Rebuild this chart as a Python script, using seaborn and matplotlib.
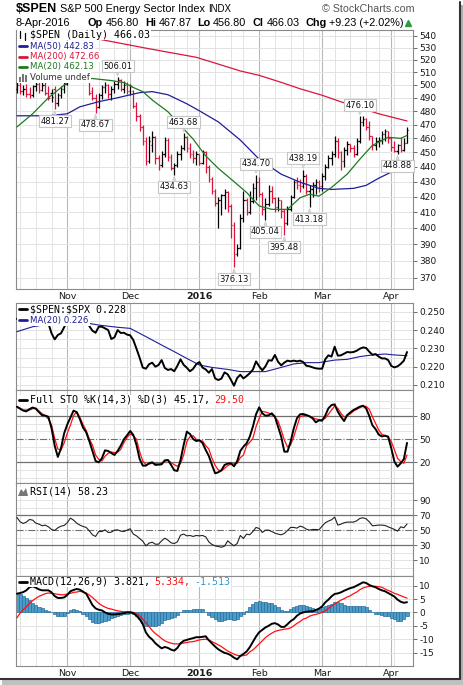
import matplotlib

matplotlib.use("Agg")
import matplotlib.pyplot as plt
import numpy as np
import pandas as pd
import seaborn as sns
from matplotlib.lines import Line2D
from matplotlib.patches import Polygon, Rectangle
from matplotlib.ticker import NullLocator

sns.set_style("white")
plt.rcParams["font.family"] = ["DejaVu Sans"]

W, H = 464, 685

# trading days on the chart (NYSE holidays removed)
holidays = ["2015-11-26", "2015-12-25", "2016-01-01", "2016-01-18", "2016-02-15", "2016-03-25"]
dates = pd.bdate_range("2015-10-09", "2016-04-08")
dates = dates[~dates.isin(pd.to_datetime(holidays))]

opens = [497, 500, 495, 497, 493, 492, 499, 501, 496, 500,
         494, 494, 497, 486, 492, 497, 501, 508, 514, 519,
         515, 511, 516, 502, 495, 490, 483, 492, 498, 500,
         493, 497, 501, 504, 497, 500, 495, 495, 484, 476,
         468, 458, 444, 455, 461, 446, 441, 449, 459, 447,
         439, 441, 449, 453, 461, 453, 449, 446, 449, 443,
         450, 440, 432, 424, 416, 418, 421, 423, 414, 402,
         384, 388, 406, 418, 410, 417, 426, 430, 422, 412,
         415, 424, 419, 413, 418, 411, 403, 412, 420, 430,
         428, 427, 434, 424, 425, 428, 430, 427, 434, 440,
         446, 449, 458, 450, 444, 452, 456, 453, 449, 458,
         472, 474, 468, 462, 455, 458, 459, 463, 465, 460,
         454, 451, 455, 452, 456.80]
highs = [502, 502, 500, 501, 498, 500, 503, 502, 502, 502,
         499, 497, 499, 494, 499, 502, 510, 516, 521, 522,
         519, 518, 519, 503, 498, 493, 494, 500, 502, 501,
         499, 503, 506.01, 505, 503, 502, 501, 496, 487, 478,
         470, 461, 462, 465, 462, 448, 451, 461, 460, 449,
         443, 451, 455, 463.68, 462, 457, 452, 451, 449, 452,
         451, 441, 433, 425, 420, 422, 425, 424, 415, 404,
         390, 409, 424, 419, 424, 429, 434.70, 433, 423, 419,
         428, 427, 420, 420, 418, 412, 414, 421, 431, 433,
         432, 438.19, 435, 428, 430, 432, 431, 436, 442, 448,
         451, 462, 460, 451, 454, 458, 456, 455, 460, 476.10,
         476, 475, 473, 462, 461, 461, 465, 467, 465, 461,
         458, 456, 461, 460, 467.87]
lows = [494, 493, 492, 491, 490, 491, 495, 494, 495, 492,
        488, 487, 481.27, 484, 490, 494, 500, 505, 512, 513,
        509, 508, 506, 492, 488, 478.67, 482, 489, 494, 490,
        488, 494, 497, 495, 494, 493, 492, 482, 473, 465,
        455, 441, 443, 450, 442, 438, 440, 447, 444, 438,
        434.63, 440, 445, 452, 450, 446, 443, 441, 441, 442,
        436, 430, 422, 414, 400, 408, 412, 410, 394, 376.13,
        383, 387, 404, 408, 409, 416, 418, 420, 408, 405.04,
        414, 416, 410, 411, 406, 395.48, 402, 411, 419, 425,
        423, 426, 422, 413.18, 420, 422, 423, 424, 431, 439,
        441, 447, 446, 438, 440, 448, 450, 447, 448, 457,
        469, 466, 459, 452, 452, 454, 456, 458, 457, 451,
        450, 448.88, 450, 451, 456.80]
closes = [500, 495, 497, 493, 492, 499, 501, 496, 500, 494,
          490, 491, 486, 492, 497, 501, 508, 514, 519, 515,
          511, 516, 508, 494, 490, 483, 492, 498, 500, 493,
          497, 501, 504, 497, 500, 495, 499, 484, 476, 468,
          458, 444, 458, 461, 446, 441, 449, 459, 447, 439,
          441, 449, 453, 461, 453, 449, 446, 449, 443, 450,
          440, 432, 424, 416, 418, 421, 423, 414, 402, 384,
          388, 406, 418, 410, 417, 426, 430, 422, 412, 415,
          424, 419, 413, 418, 411, 403, 412, 420, 430, 428,
          427, 434, 424, 425, 428, 430, 427, 434, 440, 446,
          449, 458, 450, 444, 452, 456, 453, 449, 458, 472,
          474, 468, 462, 455, 458, 459, 463, 465, 460, 454,
          451, 455, 452, 456.80, 466.03]

ma20_idx = [0, 5, 10, 16, 20, 24, 30, 34, 37, 40, 43, 48, 52, 56, 60, 64, 69, 73,
            77, 81, 86, 90, 93, 96, 100, 105, 109, 113, 118, 122, 124]
ma20_val = [468.3, 478, 490.1, 501.8, 504.5, 505, 503.4, 501.8, 498, 494.8, 488.4,
            479.5, 469.3, 459.5, 447.6, 439, 430, 422.8, 414, 411.8, 411.8, 419.3,
            421.6, 420.4, 426.1, 435.1, 445.3, 455, 460.8, 460, 462.13]
ma50_idx = [0, 10, 16, 20, 26, 32, 39, 43, 48, 54, 58, 64, 71, 77, 84, 90, 96, 100,
            107, 111, 115, 120, 124]
ma50_val = [476.5, 476.5, 478, 483.2, 487.1, 490.1, 494, 494.8, 492.4, 485.5, 480.2,
            472, 458.8, 445.3, 435, 429.6, 425.5, 424.8, 425.5, 427.5, 432.3, 437.5, 442.83]
ma200_idx = [0, 14, 28, 42, 57, 64, 71, 77, 84, 90, 97, 103, 109, 115, 120, 124]
ma200_val = [551, 543, 536, 529, 522, 516.5, 511, 507.5, 502, 497, 492, 487, 482.5,
             478, 475, 472.66]

peak_idx = [12, 25, 32, 50, 53, 69, 76, 79, 85, 91, 93, 109, 121]
peak_val = [481.27, 478.67, 506.01, 434.63, 463.68, 376.13, 434.70, 405.04, 395.48,
            438.19, 413.18, 476.10, 448.88]
peak_kind = ["low", "low", "high", "low", "high", "low", "high", "low", "low",
             "high", "low", "high", "low"]

ratio = [0.246, 0.247, 0.246, 0.245, 0.246, 0.247, 0.246, 0.247, 0.246, 0.245,
         0.2436, 0.2382, 0.2349, 0.2373, 0.2382, 0.2415, 0.2451, 0.2465, 0.2472, 0.2466,
         0.2458, 0.2462, 0.2445, 0.2422, 0.2396, 0.2385, 0.2418, 0.2418, 0.2409, 0.2400,
         0.2351, 0.2360, 0.2400, 0.2384, 0.2385, 0.2375, 0.2371, 0.2345, 0.2298, 0.2249,
         0.2195, 0.2189, 0.2213, 0.2222, 0.2200, 0.2209, 0.2236, 0.2193, 0.2182, 0.2187,
         0.2175, 0.2205, 0.2240, 0.2210, 0.2194, 0.2175, 0.2188, 0.2214, 0.2225, 0.2195,
         0.2185, 0.2167, 0.2187, 0.2136, 0.2127, 0.2135, 0.2169, 0.2158, 0.2129, 0.2096,
         0.2138, 0.2156, 0.2136, 0.2149, 0.2164, 0.2184, 0.2229, 0.2202, 0.2180, 0.2202,
         0.2235, 0.2233, 0.2264, 0.2227, 0.2207, 0.2222, 0.2233, 0.2229, 0.2233, 0.2229,
         0.2233, 0.2225, 0.2205, 0.2202, 0.2196, 0.2191, 0.2189, 0.2189, 0.2240, 0.2262,
         0.2255, 0.2309, 0.2260, 0.2262, 0.2271, 0.2280, 0.2278, 0.2280, 0.2287, 0.2298,
         0.2305, 0.2302, 0.2282, 0.2265, 0.2269, 0.2255, 0.2245, 0.2245, 0.2236, 0.2204,
         0.2196, 0.2202, 0.2215, 0.2233, 0.2280]
ratio_ma_idx = [0, 5, 10, 16, 23, 26, 32, 36, 38, 41, 46, 50, 54, 58, 62, 67, 71, 75,
                79, 84, 88, 92, 96, 101, 105, 109, 113, 117, 120, 124]
ratio_ma_val = [0.2391, 0.2418, 0.2432, 0.2440, 0.2436, 0.2427, 0.2415, 0.2409, 0.2391,
                0.2364, 0.2318, 0.2282, 0.2245, 0.2209, 0.2196, 0.2185, 0.2173, 0.2173,
                0.2173, 0.2196, 0.2215, 0.2222, 0.2222, 0.2236, 0.2240, 0.2255, 0.2264,
                0.2269, 0.2264, 0.2260]

sto_k = [92, 89.5, 87, 86, 89, 91, 89.5, 85, 81, 80.5,
         79, 64, 41.6, 27, 38, 57.5, 69, 78, 87, 85,
         76, 65, 59, 47.6, 34.7, 21.7, 20, 25.2, 35.5, 34.7,
         32, 29.5, 34.7, 41.6, 49.8, 55, 60.6, 55.4, 42.5, 24.3,
         15.7, 15.7, 18.7, 20, 16.6, 17, 17.4, 22.6, 23, 16.6,
         9.7, 8.8, 23, 42.5, 59.7, 56.7, 50.2, 47.6, 48.5, 45,
         36, 28.2, 16.6, 5.8, 7.1, 9.7, 16.6, 18.3, 18.7, 14.8,
         21.3, 34.7, 40.3, 44.6, 53.2, 66.2, 82.2, 91.2, 83.5, 80.4,
         80.9, 83.5, 79.1, 66.2, 53.2, 33.8, 33.8, 46.8, 64, 77,
         82.2, 82.6, 81.3, 79.6, 77, 71.8, 74.4, 74, 80.4, 89.9,
         94.2, 95.1, 85.6, 79, 73.5, 81.3, 84.7, 87.8, 89.9, 92.1,
         93.4, 90, 80, 68, 63, 56, 53.5, 54.5, 53.2, 38.1,
         20.9, 14.4, 18.7, 24.3, 45.17]
sto_d = [92, 90, 87.8, 87.8, 87.8, 89.5, 90, 86.5, 83, 80.4,
         76, 68.3, 51, 37.3, 36, 45, 57.6, 68.3, 80.4, 85.6,
         78.3, 69.2, 61.4, 50.2, 42.5, 29.5, 23.9, 21.7, 27.8, 31.7,
         33.4, 32.5, 33, 36.8, 45.5, 52, 56.7, 54.5, 49.8, 33.8,
         21.7, 17, 17.8, 18.7, 18.3, 17.8, 18.7, 21.3, 22.6, 19.6,
         17, 14.8, 18.3, 29.5, 46.8, 53.2, 54.5, 49.8, 48.1, 47.6,
         41.6, 37.3, 25.2, 16.1, 10.1, 8.8, 12.2, 15.7, 17.4, 18.3,
         18.7, 26, 29.5, 41.6, 45.9, 51.1, 66.2, 77, 86, 85.2,
         83.9, 81.3, 78.7, 73.5, 61.9, 48.9, 39.9, 42.5, 53.2, 66.2,
         79.1, 80.4, 80.9, 79.6, 77.8, 76.1, 75.3, 75.3, 77, 82.2,
         87.8, 93, 89.9, 83.5, 78.7, 80.4, 83, 86.5, 88.6, 90.8,
         92.5, 92.5, 88.6, 79.1, 70.5, 61.9, 56.3, 54.5, 52.8, 46.8,
         36, 25.2, 20.9, 18.7, 29.5]

rsi = [66.9, 61.1, 58.9, 60.7, 64.2, 63.3, 59.3, 58, 55.8, 56.7,
       54.4, 50.9, 49.6, 53.1, 55.3, 56.2, 59.8, 66, 63.3, 59.3,
       56.7, 54.9, 53.6, 49.1, 43.8, 41.6, 48.2, 48.2, 50.4, 46.9,
       47.3, 50, 50.4, 48.7, 48.2, 50, 51.8, 44.7, 42.4, 38.9,
       35.3, 29.1, 32.7, 34, 31.3, 31.3, 35.8, 39.3, 36.7, 33.1,
       32.2, 34.4, 43.3, 44.7, 42.4, 42.9, 41.6, 42.9, 42.4, 42.9,
       41.1, 34.4, 30.9, 29.1, 28.2, 27.3, 28.7, 35.8, 32.2, 29.1,
       32.2, 42.9, 38.9, 44.7, 43.8, 48.2, 53.6, 52.2, 46.9, 50,
       50, 48.2, 46, 44.7, 43.8, 45.6, 49.6, 53.6, 53.6, 52.7,
       55.3, 54, 51.3, 50, 50.9, 50.9, 50.4, 55.3, 59.8, 62,
       63.8, 67.3, 56.7, 58, 59.8, 60.7, 60.7, 60.7, 62.4, 65.6,
       66.4, 65.1, 61.1, 55.8, 56.2, 56.7, 56.7, 56.2, 54.4, 52.7,
       50.9, 48.7, 54.4, 53.1, 58.23]

macd = [7, 7.25, 7.6, 8.25, 9.4, 9.75, 9.25, 8.6, 8.25, 8.25,
        8.25, 7.5, 6.1, 5.4, 5.4, 5.6, 6.5, 7.9, 8.4, 8.75,
        8.5, 7.75, 7, 4.9, 2.75, 1.5, 1, 0.75, 0, -0.5,
        -0.75, -0.75, -0.6, -0.5, -0.25, 0, 0, -0.25, -1.25, -2.5,
        -4.4, -7.5, -9.1, -10.1, -11.5, -12.5, -13.4, -12.9, -13.25, -13.9,
        -14.25, -13.25, -11.5, -10.6, -10.25, -9.9, -9.6, -9.25, -9.25, -9.1,
        -8.9, -10.4, -11.6, -12.75, -13.75, -14.5, -15.1, -15.4, -16, -16.9,
        -17.5, -16.25, -15.5, -14.6, -13, -11, -9, -7.4, -6.5, -5.6,
        -5, -4.25, -4, -4.5, -5.4, -5.4, -4.4, -3.25, -2.5, -1.25,
        -0.4, 0, 0.25, 0.4, 0.4, 0.9, 1.4, 2.25, 3.75, 4.75,
        6, 6.9, 7.1, 7.5, 8.1, 8.6, 9.1, 9.4, 10, 10.6,
        11.25, 11, 10.25, 9.75, 9.4, 8.75, 8.25, 7.9, 7.25, 6.6,
        5.9, 4.75, 4, 3.6, 3.821]
signal = [-2, -0.25, 1, 2.1, 3.4, 4.4, 5.25, 6, 6.5, 7,
          7.25, 7.1, 7, 6.75, 6.6, 6.6, 6.9, 7.1, 7.5, 7.6,
          7.9, 7.6, 7.25, 6.5, 5.6, 4.5, 3.4, 2.6, 2, 1.5,
          1.25, 0.9, 0.6, 0.4, 0.25, 0.25, 0.25, 0, -0.5, -1.25,
          -2.5, -3.9, -5.25, -6.75, -7.9, -8.75, -9.75, -10.6, -11.1, -11.5,
          -11.75, -11.75, -11.75, -11.4, -11.25, -11, -10.9, -10.6, -10.25, -10.1,
          -10, -10.25, -10.9, -11.5, -12.1, -12.75, -13.6, -14.4, -15, -15.6,
          -16, -16.25, -16.1, -15.9, -14.75, -14, -12.9, -11.75, -10.6, -9.4,
          -8.5, -7.75, -7.1, -6.75, -6.5, -6.25, -6.1, -5.75, -5, -4.1,
          -3.4, -2.5, -2.1, -1.4, -1, -0.75, -0.4, 0, 0.6, 1.5,
          2.4, 3.1, 3.9, 4.6, 5.1, 5.75, 6.25, 7, 7.6, 8.5,
          9.1, 9.5, 9.75, 9.75, 9.75, 9.6, 9.4, 8.75, 8.25, 7.75,
          7.1, 6.75, 6.25, 5.75, 5.334]
hist = [7, 6.8, 6, 5.4, 4.6, 3.6, 2.9, 2.1, 1.5, 0.9,
        0.5, 0, -0.7, -1.3, -1.5, -1.4, -0.2, 1, 1.25, 1,
        0.4, -0.4, -1.4, -2.6, -3.5, -4, -3.9, -3.5, -3.1, -2.7,
        -2, -1.7, -1.4, -1, -0.75, -0.5, -0.3, -0.75, -1.4, -2.4,
        -3.8, -5, -5.2, -5.25, -5.1, -4.6, -3.8, -2.9, -2.4, -2,
        -1.6, -1.1, 0, 0.8, 1, 1, 1.2, 1.25, 1.25, 1.1,
        0.3, -0.9, -1.8, -2.6, -3.2, -3.3, -3, -2.5, -2.5, -2.75,
        -2.5, -1.25, -0.5, 0.4, 2, 3.3, 4, 4.1, 3.9, 3.75,
        3.6, 3.4, 2.9, 2, 0.9, 0.4, 0.5, 1.2, 2.2, 2.5,
        2.75, 2.6, 2.3, 2, 1.7, 1.35, 1.4, 2, 2.4, 2.7,
        3.3, 3.8, 4, 3.5, 2.9, 2.5, 2.5, 2.25, 2.25, 2.25,
        2.25, 2, 1, 0, -0.4, -0.7, -1, -1.25, -1.4, -1.9,
        -2.5, -3.3, -3.1, -2.4, -1.513]

RED = "#dc143c"
NAVY = "#1e1e96"
GREEN = "#1e7a1e"
HIST = "#4b9cc9"

idx = np.arange(len(closes))
month_idx = [i for i in range(1, len(dates)) if dates[i].month != dates[i - 1].month]
week_idx = [i for i in range(1, len(dates)) if dates[i].weekday() < dates[i - 1].weekday()]
month_names = ["Nov", "Dec", "2016", "Feb", "Mar", "Apr"]

fig = plt.figure(figsize=(W / 100, H / 100), dpi=100)
fig.patch.set_facecolor("white")


def fx(x):
    return x / W


def fy(y):
    return 1 - y / H


def panel(top, bottom):
    return fig.add_axes([fx(16), fy(bottom), (413 - 16) / W, (bottom - top) / H])


def style(ax, yticks, labels, hgrid):
    ax.set_xlim(-0.3, 125.9)
    for s in ax.spines.values():
        s.set_color("#8a8a8a")
        s.set_linewidth(0.8)
    ax.yaxis.tick_right()
    ax.yaxis.set_minor_locator(NullLocator())
    ax.set_yticks(yticks)
    ax.set_yticklabels(labels)
    ax.tick_params(axis="y", length=3, width=0.6, color="#555555", pad=1.5,
                   labelsize=6.5, labelcolor="#1a1a1a")
    ax.set_xticks(month_idx)
    ax.set_xticklabels([])
    ax.tick_params(axis="x", length=0)
    for w in week_idx:
        ax.axvline(w, color="#e3e3e3", lw=0.7, zorder=0)
    for m in month_idx:
        ax.axvline(m, color="#b8b8b8", lw=0.8, zorder=0)
    for v in hgrid:
        ax.axhline(v, color="#e3e3e3", lw=0.7, zorder=0)
    ax.set_xlabel("")
    ax.set_ylabel("")


def month_labels(ax):
    ax.set_xticklabels(month_names)
    ax.tick_params(axis="x", labelsize=6.8, pad=2, labelcolor="#1a1a1a")
    ax.get_xticklabels()[2].set_fontweight("bold")
    ax.set_xticks(idx, minor=True)
    ax.tick_params(axis="x", which="minor", length=1.5, width=0.5, color="#9a9a9a",
                   direction="in")


# ---- main price panel ----
ax1 = panel(30, 289)
ax1.set_yscale("log")
ax1.set_ylim(363.7, 544.7)
p_ticks = list(range(370, 541, 10))
style(ax1, p_ticks, [str(v) for v in p_ticks], p_ticks)
month_labels(ax1)

bar_col = [("black" if i == 0 or closes[i] >= closes[i - 1] else RED) for i in idx]
ax1.vlines(idx, lows, highs, colors=bar_col, lw=0.9, zorder=3)
ax1.hlines(opens, idx - 0.45, idx, colors=bar_col, lw=0.9, zorder=3)
ax1.hlines(closes, idx, idx + 0.45, colors=bar_col, lw=0.9, zorder=3)

sns.lineplot(x=ma200_idx, y=ma200_val, ax=ax1, color=RED, lw=0.9, sort=False, zorder=4)
sns.lineplot(x=ma50_idx, y=ma50_val, ax=ax1, color=NAVY, lw=0.9, sort=False, zorder=4)
sns.lineplot(x=ma20_idx, y=ma20_val, ax=ax1, color=GREEN, lw=0.9, sort=False, zorder=4)
ax1.set_xlabel("")
ax1.set_ylabel("")

for i, v, kind in zip(peak_idx, peak_val, peak_kind):
    dy = 8 if kind == "high" else -8.5
    ax1.annotate(f"{v:.2f}", xy=(i, v), xytext=(0, dy), textcoords="offset points",
                 ha="center", va="center", fontsize=6, color="#111111", zorder=8,
                 bbox=dict(boxstyle="square,pad=0.18", fc="white", ec="#c6c6c6", lw=0.8),
                 arrowprops=dict(arrowstyle="wedge,tail_width=0.35", fc="#dddddd",
                                 ec="#c6c6c6", lw=0.5, shrinkA=0, shrinkB=1))

# ---- ratio panel ----
ax2 = panel(303, 390)
ax2.set_ylim(0.20727, 0.25475)
r_ticks = [0.21, 0.22, 0.23, 0.24, 0.25]
style(ax2, r_ticks, [f"{v:.3f}" for v in r_ticks], [0.21, 0.215, 0.22, 0.225, 0.23, 0.235, 0.24, 0.245, 0.25])
sns.lineplot(x=ratio_ma_idx, y=ratio_ma_val, ax=ax2, color=NAVY, lw=0.8, sort=False, zorder=3)
sns.lineplot(x=idx, y=ratio, ax=ax2, color="black", lw=1.4, sort=False, zorder=4)
ax2.set_xlabel("")
ax2.set_ylabel("")

# ---- stochastics ----
ax3 = panel(390, 483)
ax3.set_ylim(-6.8, 113.7)
style(ax3, [20, 50, 80], ["20", "50", "80"], [0, 10, 30, 40, 60, 70, 90, 100])
ax3.axhline(80, color="#707070", lw=0.9, zorder=1)
ax3.axhline(20, color="#707070", lw=0.9, zorder=1)
ax3.axhline(50, color="#707070", lw=0.8, ls="-.", zorder=1)
sns.lineplot(x=idx, y=sto_d, ax=ax3, color="#ff1010", lw=0.9, sort=False, zorder=3)
sns.lineplot(x=idx, y=sto_k, ax=ax3, color="black", lw=1.4, sort=False, zorder=4)
ax3.set_xlabel("")
ax3.set_ylabel("")

# ---- RSI ----
ax4 = panel(483, 576)
ax4.set_ylim(-11, 112.7)
rs_ticks = [10, 30, 50, 70, 90]
style(ax4, rs_ticks, [str(v) for v in rs_ticks], [0, 10, 20, 40, 60, 80, 90, 100])
ax4.axhline(70, color="#707070", lw=0.9, zorder=1)
ax4.axhline(30, color="#707070", lw=0.9, zorder=1)
ax4.axhline(50, color="#707070", lw=0.8, ls="-.", zorder=1)
sns.lineplot(x=idx, y=rsi, ax=ax4, color="#222222", lw=0.8, sort=False, zorder=4)
ax4.set_xlabel("")
ax4.set_ylabel("")

# ---- MACD ----
ax5 = panel(576, 666)
ax5.set_ylim(-20, 13.6)
m_ticks = [-15, -10, -5, 0, 5, 10]
style(ax5, m_ticks, [str(v) for v in m_ticks], m_ticks)
month_labels(ax5)
ax5.bar(idx, hist, width=1.0, color=HIST, edgecolor="#2b6f9c", linewidth=0.5, zorder=2)
sns.lineplot(x=idx, y=signal, ax=ax5, color="#ff1010", lw=0.9, sort=False, zorder=3)
sns.lineplot(x=idx, y=macd, ax=ax5, color="black", lw=1.4, sort=False, zorder=4)
ax5.set_xlabel("")
ax5.set_ylabel("")

# ---- texts ----
renderer = fig.canvas.get_renderer()


def put(x, y, parts, size, family, zorder=6):
    for s, color, weight, gap in parts:
        t = fig.text(fx(x), fy(y), s, color=color, fontsize=size, family=family,
                     fontweight=weight, ha="left", va="center", zorder=zorder)
        x = t.get_window_extent(renderer).x1 + gap
    return x


def legend_row(y, parts, size, family, marker=None):
    end = put(30, y, parts, size, family)
    fig.add_artist(Rectangle((fx(16.8), fy(y + 5.3)), (end + 1.5 - 16.8) / W, 10.6 / H,
                             transform=fig.transFigure, fc="white", ec="none", zorder=5))
    if marker is not None:
        fig.add_artist(Line2D([fx(18.5), fx(27.5)], [fy(y), fy(y)], color=marker, lw=2.0,
                              transform=fig.transFigure, zorder=7))


MONO = "DejaVu Sans Mono"
SANS = "DejaVu Sans"

# header
put(15.5, 8.5, [("$SPEN", "black", "bold", 3)], 9, "Liberation Sans")
put(60, 8.5, [("S&P 500 Energy Sector Index", "black", "normal", 0)], 7.8, "Liberation Sans")
put(208, 9, [("INDX", "black", "normal", 0)], 7, "Liberation Sans")
put(322, 8.5, [("\u00a9 StockCharts.com", "#555555", "normal", 0)], 7.7, "Liberation Sans")
put(16, 22.5, [("8-Apr-2016", "black", "normal", 0)], 7.8, "Liberation Sans")
put(88, 22.5, [("Op", "black", "bold", 3), ("456.80", "black", "normal", 0)], 7.8, "Liberation Sans")
put(145, 22.5, [("Hi", "black", "bold", 3), ("467.87", "black", "normal", 0)], 7.8, "Liberation Sans")
put(197, 22.5, [("Lo", "black", "bold", 3), ("456.80", "black", "normal", 0)], 7.8, "Liberation Sans")
put(253, 22.5, [("Cl", "black", "bold", 3), ("466.03", "black", "normal", 0)], 7.8, "Liberation Sans")
put(305, 22.5, [("Chg", "black", "bold", 3), ("+9.23 (+2.02%)", "black", "normal", 0)], 7.8,
    "Liberation Sans")
fig.add_artist(Line2D([fx(408)], [fy(23)], marker="^", ms=4, color="#2e9a3e", ls="none",
                      transform=fig.transFigure, zorder=6))

# main legend
legend_row(35, [("$SPEN (Daily) 466.03", "black", "normal", 0)], 7.2, MONO)
for xa, y0, y1 in [(20, 31, 38), (25, 33, 40)]:
    fig.add_artist(Line2D([fx(xa), fx(xa)], [fy(y0), fy(y1)], color="black", lw=0.9,
                          transform=fig.transFigure, zorder=7))
legend_row(46, [("MA(50) 442.83", NAVY, "normal", 0)], 6.2, SANS, NAVY)
legend_row(56.5, [("MA(200) 472.66", RED, "normal", 0)], 6.2, SANS, RED)
legend_row(67, [("MA(20) 462.13", GREEN, "normal", 0)], 6.2, SANS, GREEN)
legend_row(77.5, [("Volume undef", "#333333", "normal", 0)], 6.2, SANS)
for k, hgt in enumerate([5, 8, 6]):
    fig.add_artist(Rectangle((fx(19 + 3 * k), fy(81.5)), 2 / W, hgt / H, transform=fig.transFigure,
                             fc="#777777", ec="none", zorder=7))

# other panel legends
legend_row(309, [("\\$SPEN:\\$SPX 0.228", "black", "normal", 0)], 7.2, MONO, "black")
legend_row(320.5, [("MA(20) 0.226", NAVY, "normal", 0)], 6.2, SANS, NAVY)
legend_row(400, [("Full STO %K(14,3) %D(3) 45.17,", "black", "normal", 4),
                 ("29.50", "#ff1010", "normal", 0)], 7.2, MONO, "black")
legend_row(492, [("RSI(14) 58.23", "black", "normal", 0)], 7.2, MONO)
fig.add_artist(Polygon([(fx(18), fy(496)), (fx(21), fy(489)), (fx(23.5), fy(492)),
                        (fx(26), fy(488)), (fx(28), fy(496))], closed=True,
                       transform=fig.transFigure, fc="#777777", ec="none", zorder=7))
legend_row(582, [("MACD(12,26,9) 3.821,", "black", "normal", 4),
                 ("5.334,", "#ff1010", "normal", 4),
                 ("-1.513", "#3399cc", "normal", 0)], 7.2, MONO, "black")

# outer frame with shadow
fig.add_artist(Line2D([fx(460.5), fx(460.5)], [fy(2), fy(679)], color="#333333", lw=1.5,
                      transform=fig.transFigure, zorder=9))
fig.add_artist(Line2D([fx(0), fx(460.5)], [fy(679), fy(679)], color="#333333", lw=1.5,
                      transform=fig.transFigure, zorder=9))
fig.add_artist(Rectangle((fx(461.5), fy(685)), 2.5 / W, 680 / H, transform=fig.transFigure,
                         fc="#b0b0b0", ec="none", zorder=8))
fig.add_artist(Rectangle((fx(2), fy(685)), 462 / W, 5 / H, transform=fig.transFigure,
                         fc="#c0c0c0", ec="none", zorder=8))

fig.savefig("out.png", dpi=100)
